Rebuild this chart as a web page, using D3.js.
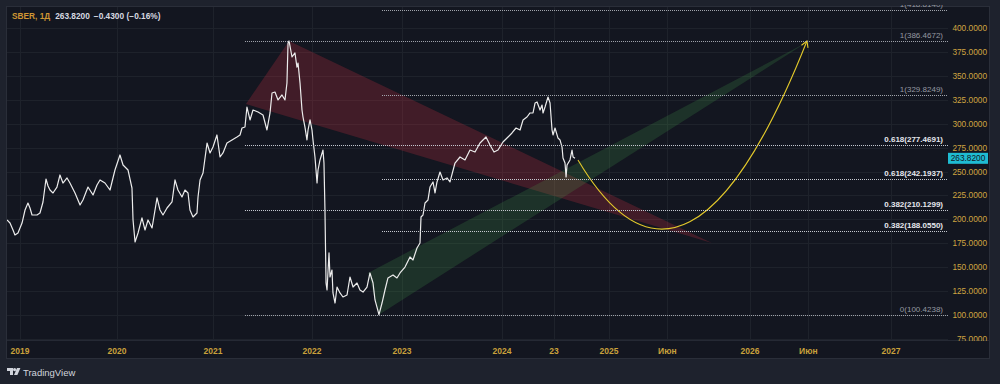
<!DOCTYPE html>
<html><head><meta charset="utf-8">
<script src="https://cdn.jsdelivr.net/npm/d3@7"></script>
<style>
html,body{margin:0;padding:0;background:#1e222d;}
svg{display:block;}
text{font-family:"Liberation Sans",Arial,sans-serif;}
</style></head><body>
<svg id="chart" width="1000" height="384"></svg>
<script>
// ---- data (decimal years, price RUB) ----
const years = [2018.866,2018.897,2018.928,2018.948,2018.979,2019.021,2019.052,2019.082,2019.103,2019.124,2019.175,2019.206,2019.237,2019.268,2019.289,2019.309,2019.340,2019.381,2019.412,2019.443,2019.485,2019.515,2019.567,2019.619,2019.649,2019.701,2019.753,2019.794,2019.825,2019.876,2019.928,2019.979,2020.031,2020.063,2020.115,2020.156,2020.167,2020.188,2020.219,2020.260,2020.292,2020.323,2020.365,2020.417,2020.448,2020.479,2020.521,2020.573,2020.604,2020.635,2020.677,2020.708,2020.740,2020.760,2020.792,2020.833,2020.844,2020.865,2020.896,2020.938,2020.969,2021.000,2021.040,2021.071,2021.101,2021.141,2021.192,2021.242,2021.273,2021.293,2021.323,2021.343,2021.374,2021.404,2021.455,2021.505,2021.545,2021.576,2021.596,2021.626,2021.657,2021.697,2021.727,2021.747,2021.758,2021.768,2021.798,2021.828,2021.848,2021.859,2021.879,2021.899,2021.909,2021.929,2021.949,2021.960,2021.980,2022.000,2022.011,2022.033,2022.056,2022.067,2022.089,2022.122,2022.133,2022.144,2022.156,2022.167,2022.189,2022.200,2022.222,2022.233,2022.256,2022.278,2022.311,2022.344,2022.389,2022.422,2022.456,2022.500,2022.533,2022.567,2022.611,2022.644,2022.678,2022.700,2022.722,2022.744,2022.778,2022.811,2022.844,2022.900,2022.944,2022.978,2023.030,2023.080,2023.110,2023.150,2023.180,2023.190,2023.210,2023.230,2023.260,2023.280,2023.310,2023.330,2023.350,2023.380,2023.410,2023.450,2023.480,2023.530,2023.580,2023.630,2023.680,2023.730,2023.780,2023.840,2023.880,2023.920,2023.960,2024.010,2024.063,2024.104,2024.146,2024.188,2024.219,2024.260,2024.292,2024.323,2024.344,2024.365,2024.396,2024.417,2024.427,2024.448,2024.479,2024.500,2024.521,2024.531,2024.552,2024.583,2024.604,2024.625,2024.635,2024.656,2024.667,2024.677,2024.708,2024.729,2024.740,2024.760];
const prices = [199.4,196.2,188.9,183.7,185.8,196.2,209.8,217.1,211.9,204.6,204.6,206.7,218.2,242.2,234.9,230.7,227.6,233.8,246.4,238.0,243.3,238.0,227.6,215.0,220.3,233.8,225.5,235.9,241.2,238.0,230.7,251.6,267.3,256.8,251.6,232.8,199.4,176.4,185.8,201.5,188.9,199.4,191.0,222.4,209.8,204.6,211.9,218.2,241.2,230.7,223.4,230.7,227.6,209.8,202.5,206.7,223.4,241.2,248.5,279.8,269.4,275.6,288.2,265.2,269.4,279.8,283.0,286.1,288.2,295.5,296.5,317.4,303.9,314.3,312.2,309.1,293.4,311.2,332.1,333.1,324.8,330.0,324.8,342.5,384.3,386.5,369.7,373.9,359.2,363.4,342.5,314.3,307.0,296.5,283.0,293.4,303.9,293.4,283.0,265.2,238.0,251.6,262.1,272.5,258.9,209.8,133.5,126.2,164.9,139.8,147.1,123.1,112.6,129.3,123.1,118.9,121.0,139.8,129.3,133.5,126.2,124.1,129.3,144.0,133.5,115.8,108.4,100.4,112.6,126.2,138.8,141.9,138.8,144.0,150.2,160.7,157.6,170.1,175.3,202.5,204.6,217.1,220.3,233.8,239.1,227.6,239.1,249.5,241.2,243.3,239.1,258.9,265.2,262.1,272.5,270.4,279.8,286.1,277.7,270.4,272.5,280.9,286.1,290.3,295.5,293.4,303.9,307.0,311.2,311.2,321.6,322.7,314.3,319.5,311.2,317.4,327.9,321.6,293.4,288.2,295.5,285.0,283.0,275.6,264.2,258.9,244.3,256.8,262.1,272.5,265.2,263.82];

const priceTicks = [75,100,125,150,175,200,225,250,275,300,325,350,375,400];
const timeTicks = [2019,2020,2021,2022,2023,2024,2024.542,2025,2025.414,2026,2026.414,2027];
const timeTickLabels = ["2019","2020","2021","2022","2023","2024","23","2025","Июн","2026","Июн","2027"];

const lastPrice = 263.82;
const headerSymbol = "SBER, 1Д";
const headerValues = ["263.8200","−0.4300","(−0.16%)"];

// fib retracement sets
const fibALevels = [386.4672, 277.4691, 210.1299, 100.4238];
const fibARatios = ["1","0.618","0.382","0"];
const fibAStart = 2021.323;
const fibBLevels = [418.8140, 329.8249, 242.1937, 188.0550];
const fibBRatios = ["1","1","0.618","0.382"];
const fibBStart = 2022.778;

// drawings
const redYears = [2021.333, 2021.768, 2025.730];
const redPrices = [320.6, 386.47, 175.3];
const greenYears = [2022.622, 2022.744, 2026.404];
const greenPrices = [144.0, 100.42, 385.0];
const curveYears = [2024.781, 2025.553, 2026.404];
const curvePrices = [262.0, 70.6, 386.47];

// ---- layout ----
const svg = d3.select("#chart");
const P = {left:7, right:948, top:7, bottom:340};
const panel = {x:7, y:7, w:983, h:352};

const x = d3.scaleLinear()
  .domain([2019,2020,2021,2022,2023,2024,2024.76,2025,2027])
  .range([20,117,213,312,402,502,575,609,891]);
const y = d3.scaleLinear().domain([75,400]).range([339,28]);

svg.append("rect").attr("width",1000).attr("height",384).attr("fill","#1e222d");
svg.append("rect").attr("x",panel.x-0.5).attr("y",panel.y-0.5).attr("width",panel.w).attr("height",panel.h)
  .attr("fill","#131620").attr("stroke","#2a2e39").attr("stroke-width",1);

const defs = svg.append("defs");
defs.append("clipPath").attr("id","plotClip").append("rect")
  .attr("x",P.left).attr("y",P.top).attr("width",P.right-P.left).attr("height",P.bottom-P.top);
defs.append("clipPath").attr("id","axisClip").append("rect")
  .attr("x",P.right).attr("y",P.top).attr("width",panel.x+panel.w-P.right).attr("height",341-P.top);
defs.append("clipPath").attr("id","topClip").append("rect")
  .attr("x",P.left).attr("y",5).attr("width",P.right-P.left).attr("height",P.bottom-5);

// grid
const grid = svg.append("g").attr("clip-path","url(#plotClip)");
grid.selectAll("line.h").data(priceTicks).join("line")
  .attr("x1",P.left).attr("x2",P.right).attr("y1",d=>Math.round(y(d))+0.5).attr("y2",d=>Math.round(y(d))+0.5)
  .attr("stroke","#1e222b").attr("stroke-width",1);
grid.selectAll("line.v").data(timeTicks).join("line")
  .attr("y1",P.top).attr("y2",P.bottom).attr("x1",d=>Math.round(x(d))+0.5).attr("x2",d=>Math.round(x(d))+0.5)
  .attr("stroke","#1e222b").attr("stroke-width",1);
svg.append("line").attr("x1",P.left).attr("x2",panel.x+panel.w-1).attr("y1",P.bottom+0.5).attr("y2",P.bottom+0.5)
  .attr("stroke","#252934");

const plot = svg.append("g").attr("clip-path","url(#plotClip)");

// red & green wedges
const tri = (ys, ps) => ys.map((v,i)=>[x(v), y(ps[i])]);
plot.append("polygon").attr("points", tri(redYears,redPrices).map(p=>p.join(",")).join(" "))
  .attr("fill","rgba(242,54,69,0.21)");
plot.append("polygon").attr("points", tri(greenYears,greenPrices).map(p=>p.join(",")).join(" "))
  .attr("fill","rgba(76,175,80,0.19)");

// fib lines
const fibG = svg.append("g").attr("clip-path","url(#topClip)");
function fibSet(levels, ratios, start){
  levels.forEach((lv,i)=>{
    const ly = Math.round(y(lv))+0.5;
    fibG.append("line").attr("x1",x(start)).attr("x2",P.right).attr("y1",ly).attr("y2",ly)
      .attr("stroke", (ratios[i]==="1"||ratios[i]==="0") ? "#a3a6ae" : "#c9ccd3")
      .attr("stroke-width",1).attr("stroke-dasharray","1,1");
    const strong = !(ratios[i]==="1"||ratios[i]==="0");
    fibG.append("text").attr("x",943).attr("y",ly-4).attr("text-anchor","end")
      .attr("font-size",8).attr("font-weight",strong?"bold":"normal")
      .attr("fill", strong ? "#e6e8ee" : "#9598a1")
      .text(`${ratios[i]}(${lv.toFixed(4)})`);
  });
}
fibSet(fibALevels.slice(0,3), fibARatios.slice(0,3), fibAStart);
fibSet(fibBLevels, fibBRatios, fibBStart);
fibSet(fibALevels.slice(3), fibARatios.slice(3), fibAStart);

// price line
const line = d3.line().x((d,i)=>x(years[i])).y((d,i)=>y(prices[i]));
plot.append("path").attr("d", line(prices)).attr("fill","none")
  .attr("stroke","#ececec").attr("stroke-width",1.2).attr("stroke-linejoin","round");

// yellow curve
const c = curveYears.map((v,i)=>[x(v), y(curvePrices[i])]);
const cp = d3.path();
cp.moveTo(c[0][0],c[0][1]);
cp.quadraticCurveTo(c[1][0],c[1][1],c[2][0],c[2][1]);
plot.append("path").attr("d",cp.toString()).attr("fill","none").attr("stroke","#e3c92b").attr("stroke-width",1.1);
const dx = c[2][0]-c[1][0], dy = c[2][1]-c[1][1], L = Math.hypot(dx,dy);
const ux = dx/L, uy = dy/L, ah = 7, ang = Math.PI/6;
const rot = (a)=>[ -(ux*Math.cos(a) - uy*Math.sin(a))*ah, -(ux*Math.sin(a) + uy*Math.cos(a))*ah ];
const a1 = rot(ang), a2 = rot(-ang);
plot.append("path")
  .attr("d",`M${c[2][0]+a1[0]},${c[2][1]+a1[1]}L${c[2][0]},${c[2][1]}L${c[2][0]+a2[0]},${c[2][1]+a2[1]}`)
  .attr("fill","none").attr("stroke","#e3c92b").attr("stroke-width",1.1);

// price axis
const axG = svg.append("g").attr("clip-path","url(#axisClip)");
axG.selectAll("text").data(priceTicks).join("text")
  .attr("x",987).attr("y",d=>y(d)+3).attr("text-anchor","end")
  .attr("font-size",8.3).attr("fill","#cfa540").text(d=>d.toFixed(4));

// last price label
const lpY = y(lastPrice);
svg.append("rect").attr("x",948).attr("y",lpY-5.5).attr("width",40).attr("height",11).attr("fill","#1fbcd2");
svg.append("text").attr("x",968).attr("y",lpY+3).attr("text-anchor","middle")
  .attr("font-size",8.3).attr("fill","#131722").text(lastPrice.toFixed(4));

// time axis
svg.append("g").selectAll("text").data(timeTicks).join("text")
  .attr("x",d=>x(d)).attr("y",354).attr("text-anchor","middle")
  .attr("font-size",8.5).attr("font-weight","bold").attr("fill","#c9a13b")
  .text((d,i)=>timeTickLabels[i]);

// header
const hdr = svg.append("text").attr("x",12).attr("y",19).attr("font-size",8.3).attr("font-weight","bold");
hdr.append("tspan").attr("fill","#cf9634").text(headerSymbol);
headerValues.forEach((t,i)=>{
  hdr.append("tspan").attr("dx", i===0 ? 5 : (i===1 ? 4 : 2.5)).attr("fill","#d7d9e0").text(t);
});

// TradingView logo
const logo = svg.append("g").attr("fill","#d1d4dc");
logo.append("path").attr("d","M7,368h6v7h-3v-4h-3z");
logo.append("circle").attr("cx",14.6).attr("cy",369.6).attr("r",1.6);
logo.append("path").attr("d","M17,368h3.4l-3,7h-3.4z");
svg.append("text").attr("x",23).attr("y",376).attr("font-size",9.5).attr("fill","#d1d4dc").text("TradingView");
</script>
</body></html>
